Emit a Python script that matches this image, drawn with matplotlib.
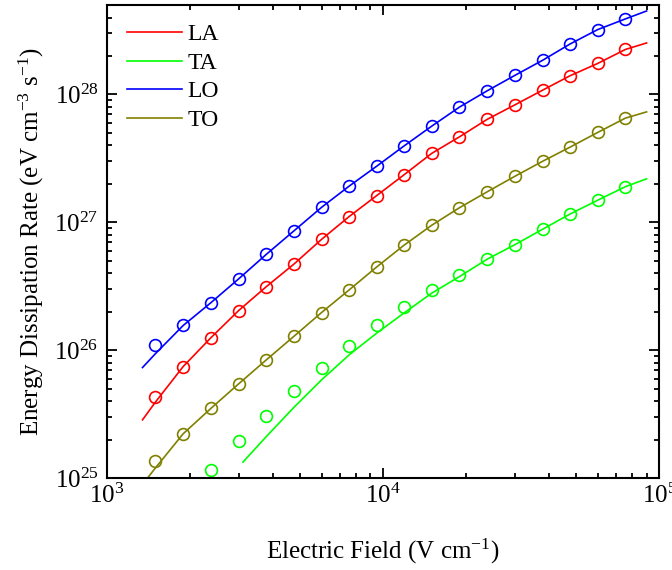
import matplotlib
matplotlib.use("Agg")
import matplotlib.pyplot as plt
from matplotlib.ticker import LogLocator, NullFormatter

plt.rcParams['font.family'] = ['Liberation Serif', 'DejaVu Serif']
plt.rcParams['mathtext.fontset'] = 'custom'
plt.rcParams['mathtext.rm'] = 'Liberation Serif'
plt.rcParams['mathtext.it'] = 'Liberation Serif:italic'
plt.rcParams['mathtext.bf'] = 'Liberation Serif:bold'

# Electric field (V/cm) of the symbols
field = [1500, 1890, 2380, 3000, 3780, 4750, 5990, 7540, 9490, 11900,
         15000, 18900, 23800, 30000, 37800, 47500, 59900, 75400]

# symbol values (eV cm^-3 s^-1)
la_pts = [4.34e25, 7.45e25, 1.25e26, 2.04e26, 3.14e26, 4.70e26, 7.36e26, 1.11e27,
          1.62e27, 2.35e27, 3.46e27, 4.66e27, 6.38e27, 8.29e27, 1.08e28, 1.40e28,
          1.75e28, 2.25e28]
lo_pts = [1.10e26, 1.56e26, 2.35e26, 3.61e26, 5.62e26, 8.55e26, 1.31e27, 1.92e27,
          2.75e27, 3.95e27, 5.65e27, 7.96e27, 1.067e28, 1.41e28, 1.85e28, 2.48e28,
          3.22e28, 3.90e28]
to_pts = [1.36e25, 2.22e25, 3.50e25, 5.45e25, 8.40e25, 1.28e26, 1.97e26, 2.96e26,
          4.48e26, 6.61e26, 9.48e26, 1.30e27, 1.73e27, 2.29e27, 3.00e27, 3.87e27,
          5.05e27, 6.53e27]
ta_field = field[2:]
ta_pts = [1.16e25, 1.95e25, 3.08e25, 4.75e25, 7.23e25, 1.07e26, 1.56e26, 2.17e26,
          2.94e26, 3.90e26, 5.14e26, 6.68e26, 8.82e26, 1.16e27, 1.49e27, 1.90e27]

# model curves
line_field = [1346] + field + [90000]
la_line = [2.85e25, 3.93e25] + la_pts[1:] + [2.53e28]
lo_line = [7.31e25, 9.40e25] + lo_pts[1:] + [4.50e28]
to_line = [8.9e24, 1.20e25] + to_pts[1:] + [7.31e27]
ta_line_field = [3110, 3780, 4750, 5990, 7540, 9490, 11900, 15000, 18900,
                 23800, 30000, 37800, 47500, 59900, 75400, 90000]
ta_line = [1.33e25, 2.11e25, 3.56e25, 5.86e25, 9.19e25, 1.36e26, 1.95e26, 2.79e26,
           3.76e26, 5.14e26, 6.68e26, 8.82e26, 1.16e27, 1.49e27, 1.90e27, 2.19e27]

labels = ['LA', 'TA', 'LO', 'TO']
colors = ['#FF0000', '#00FF00', '#0000FF', '#808000']

fig = plt.figure(figsize=(6.72, 5.70), dpi=100)
ax = fig.add_axes([0.159, 0.1614, 0.822, 0.8296])

series = [
    (line_field, la_line, field, la_pts),
    (ta_line_field, ta_line, ta_field, ta_pts),
    (line_field, lo_line, field, lo_pts),
    (line_field, to_line, field, to_pts),
]
for (lx, ly, px, py), lab, c in zip(series, labels, colors):
    ax.plot(lx, ly, color=c, lw=1.2, label=lab)
    ax.plot(px, py, linestyle='none', marker='o', ms=8.5, mfc='none', mec=c, mew=1.2)

ax.set_xscale('log')
ax.set_yscale('log')
ax.set_xlim(1e3, 1e5)
ax.set_ylim(1e25, 5e28)

ax.xaxis.set_minor_locator(LogLocator(base=10, subs=range(2, 10), numticks=20))
ax.yaxis.set_minor_locator(LogLocator(base=10, subs=range(2, 10), numticks=20))
ax.xaxis.set_minor_formatter(NullFormatter())
ax.yaxis.set_minor_formatter(NullFormatter())

for s in ax.spines.values():
    s.set_linewidth(1.5)
ax.tick_params(which='both', direction='in', top=True, right=True, width=1.3)
ax.tick_params(which='major', length=7, labelsize=18)
ax.tick_params(axis='x', which='major', pad=4)
ax.tick_params(axis='y', which='major', pad=6)
ax.tick_params(which='minor', length=3.6)

ax.set_xlabel('Electric Field (V cm$^{-1}$)', fontsize=18, labelpad=21)
ax.set_ylabel('Energy Dissipation Rate (eV cm$^{-3}$ s$^{-1}$)', fontsize=18, labelpad=6)

ax.legend(loc='upper left', bbox_to_anchor=(-3 / 552.4, 1 + 5 / 472.9),
          frameon=False, fontsize=17, handlelength=2.3,
          handletextpad=0.25, labelspacing=0.3, borderaxespad=0.6)

fig.savefig('out.png', dpi=100)
